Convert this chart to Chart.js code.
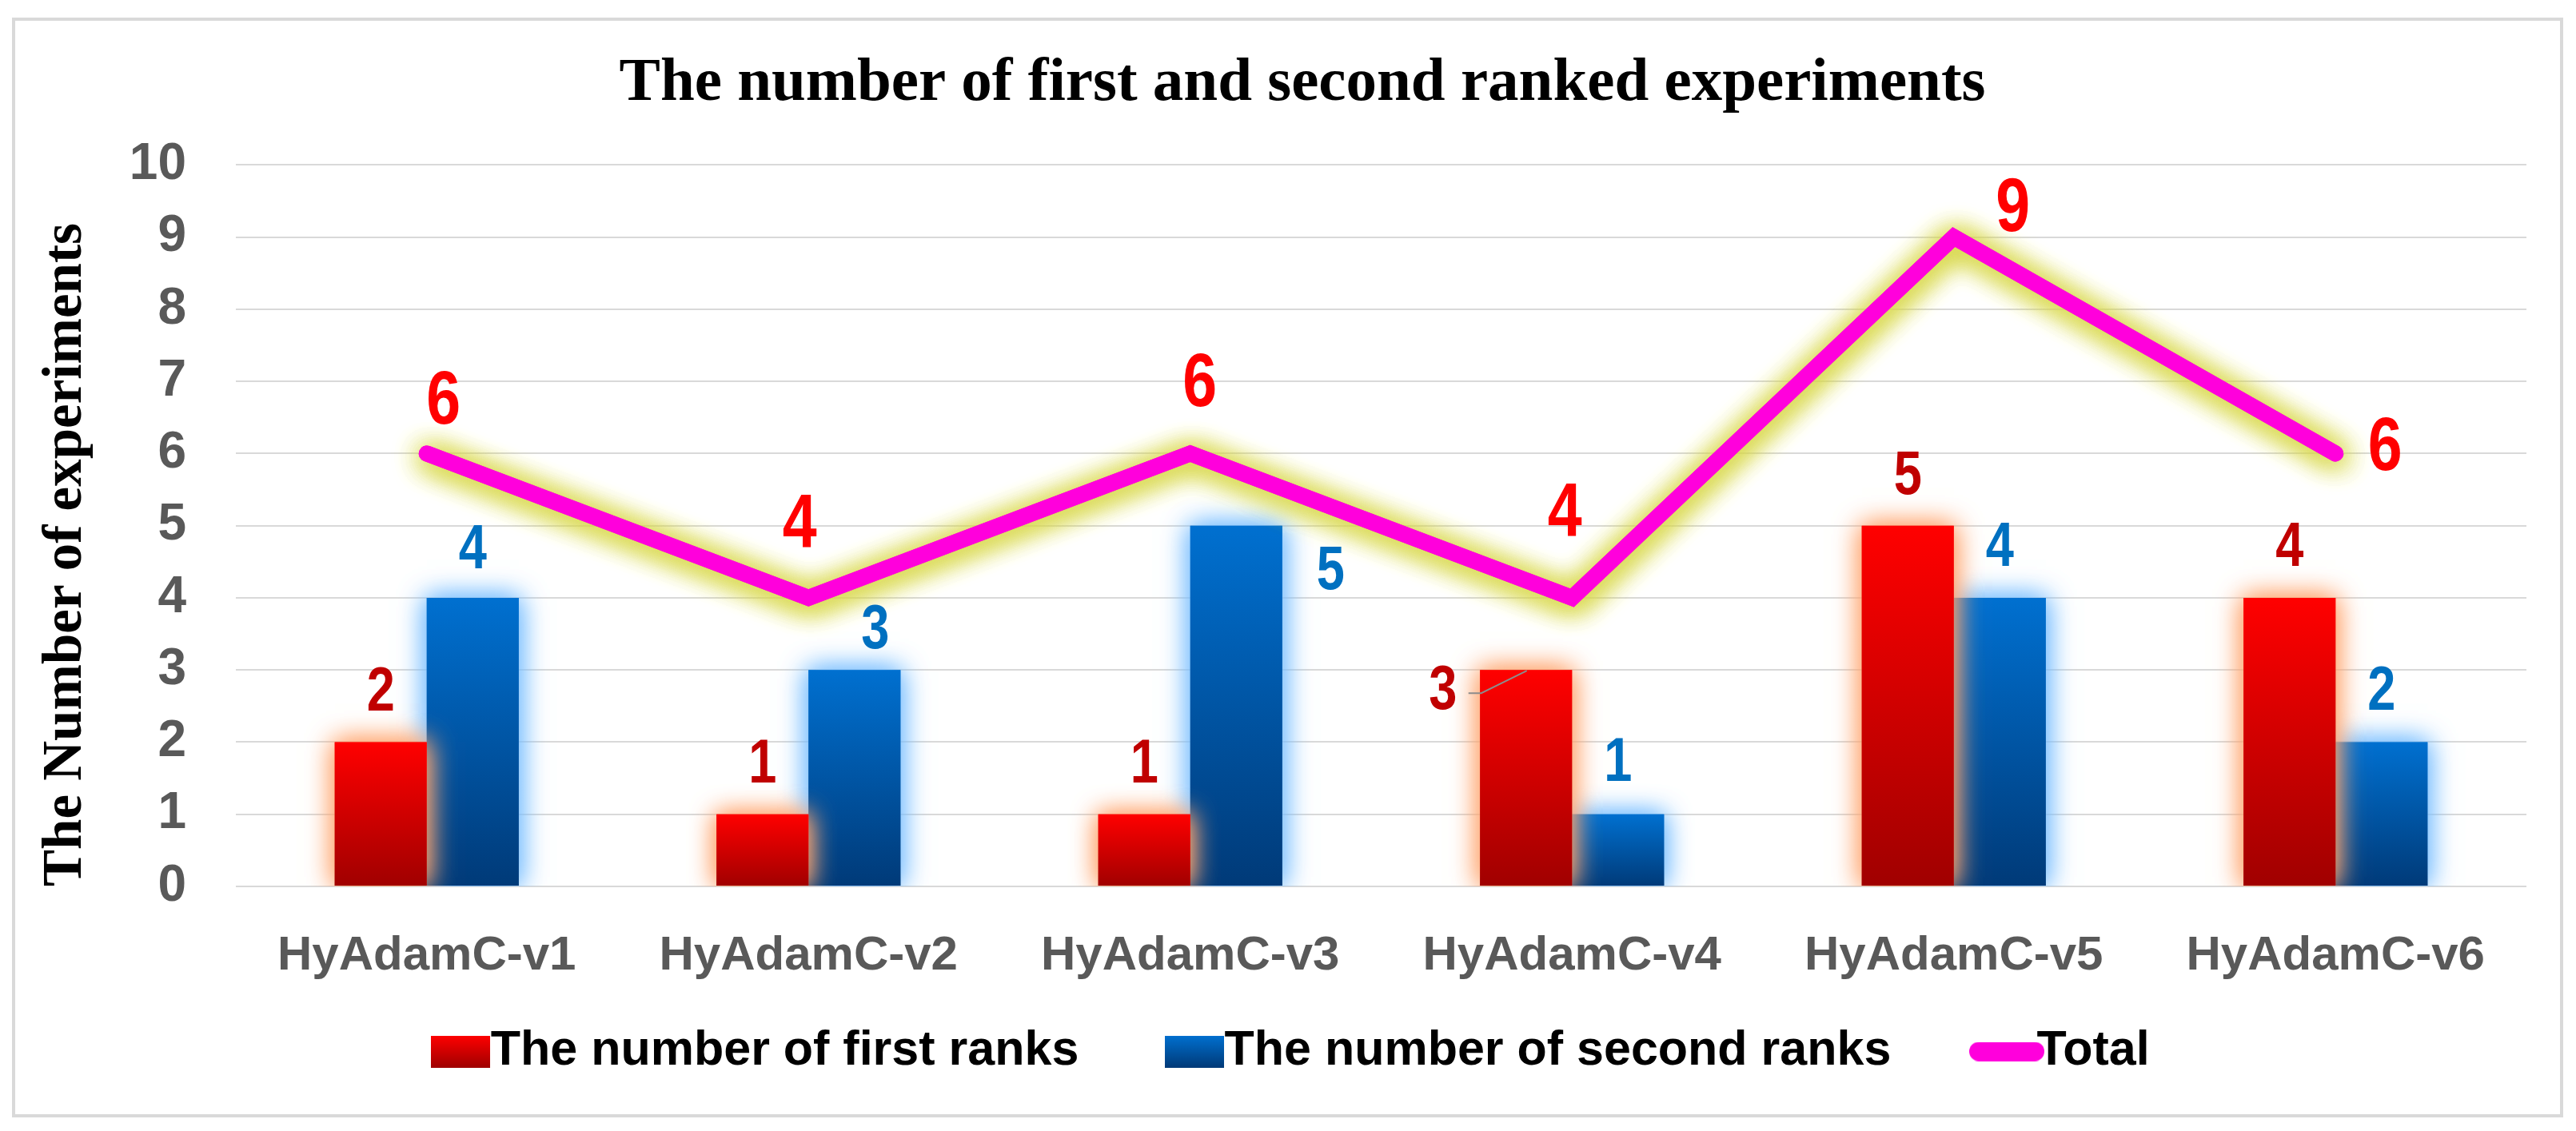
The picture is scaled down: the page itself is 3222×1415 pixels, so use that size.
<!DOCTYPE html>
<html>
<head>
<meta charset="utf-8">
<title>The number of first and second ranked experiments</title>
<script src="https://cdn.jsdelivr.net/npm/chart.js@4.4.1/dist/chart.umd.min.js"></script>
<style>
  html, body { margin: 0; padding: 0; background: #ffffff; }
  #wrap { position: relative; width: 3222px; height: 1415px; }
  #frame {
    position: absolute; left: 15px; top: 22px; width: 3191px; height: 1376px;
    border: 4px solid #d9d9d9; box-sizing: border-box; pointer-events: none;
  }
</style>
</head>
<body>
<div id="wrap">
  <canvas id="rankChart" width="3222" height="1415"></canvas>
  <div id="frame"></div>
</div>
<script>
// 資料
const categories = ['HyAdamC-v1', 'HyAdamC-v2', 'HyAdamC-v3', 'HyAdamC-v4', 'HyAdamC-v5', 'HyAdamC-v6'];
const firstRanks = [2, 1, 1, 3, 5, 4];
const secondRanks = [4, 3, 5, 1, 4, 2];
const totals = [6, 4, 6, 4, 9, 6];
const yTicks = [0, 1, 2, 3, 4, 5, 6, 7, 8, 9, 10];

const SANS = '"Liberation Sans", Arial, sans-serif';
const SERIF = '"Liberation Serif", "Times New Roman", serif';

// 漸層長條 (每根長條自己的頂到底)
const barGradient = (top, bottom) => (context) => {
  const { chart } = context;
  if (!chart.chartArea || context.type !== 'data') return top;
  const y = chart.scales.y;
  const g = chart.ctx.createLinearGradient(0, y.getPixelForValue(context.raw), 0, y.getPixelForValue(0));
  g.addColorStop(0, top);
  g.addColorStop(1, bottom);
  return g;
};

// 圖例用的小圖
const swatch = (w, h, draw) => {
  const c = document.createElement('canvas');
  c.width = w; c.height = h;
  draw(c.getContext('2d'), w, h);
  return c;
};
const legendMarks = [
  swatch(74, 40, (g, w, h) => {
    const gr = g.createLinearGradient(0, 0, 0, h);
    gr.addColorStop(0, '#ff0000'); gr.addColorStop(1, '#a00000');
    g.fillStyle = gr; g.fillRect(0, 0, w, h);
  }),
  swatch(74, 40, (g, w, h) => {
    const gr = g.createLinearGradient(0, 0, 0, h);
    gr.addColorStop(0, '#0070d0'); gr.addColorStop(1, '#003a78');
    g.fillStyle = gr; g.fillRect(0, 0, w, h);
  }),
  swatch(94, 24, (g, w, h) => {
    g.fillStyle = '#ff00dc';
    g.beginPath();
    g.roundRect(0, 0, w, h, 12);
    g.fill();
  })
];
const legendGap = '      ';

// 光暈 (多畫一次讓光暈更濃)
const glowPlugin = {
  id: 'glow',
  beforeDatasetDraw(chart, args) {
    const glow = chart.data.datasets[args.index].glow;
    if (!glow) return;
    const { ctx, chartArea } = chart;
    ctx.save();
    ctx.shadowColor = glow.color;
    ctx.shadowBlur = glow.blur;
    ctx.shadowOffsetX = glow.dx || 0;
    ctx.shadowOffsetY = glow.dy || 0;
    for (let k = 1; k < (glow.passes || 1); k++) {
      ctx.save();
      ctx.beginPath();
      ctx.rect(chartArea.left, chartArea.top, chartArea.width, chartArea.height);
      ctx.clip();
      args.meta.controller.draw();
      ctx.restore();
    }
  },
  afterDatasetDraw(chart, args) {
    if (chart.data.datasets[args.index].glow) chart.ctx.restore();
  }
};

// 數值標籤 (窄體)
const labelStyle = [
  { color: '#c00000', size: 77, nudge: [[0, -61], [0, -61], [0, -61], [-104, 28], [0, -61], [0, -61]] },
  { color: '#0070c0', size: 77, nudge: [[0, -58], [26, -48], [118, 58], [0, -63], [0, -61], [0, -62]] },
  { color: '#ff0000', size: 94, nudge: [[21, -63], [-11, -90], [12, -85], [-9, -104], [74, -34], [62, -5]] }
];
const valueLabels = {
  id: 'valueLabels',
  afterDatasetsDraw(chart) {
    const ctx = chart.ctx;
    chart.data.datasets.forEach((ds, di) => {
      const st = labelStyle[di];
      const meta = chart.getDatasetMeta(di);
      meta.data.forEach((el, i) => {
        const [dx, dy] = st.nudge[i];
        ctx.save();
        if (di === 0 && i === 3) {
          // 引導線
          ctx.strokeStyle = '#8c8c8c';
          ctx.lineWidth = 2;
          ctx.beginPath();
          ctx.moveTo(el.x - 72, el.y + 29);
          ctx.lineTo(el.x - 56, el.y + 29);
          ctx.lineTo(el.x + 1, el.y + 1);
          ctx.stroke();
        }
        ctx.translate(el.x + dx, el.y + dy);
        ctx.scale(0.82, 1);
        ctx.fillStyle = st.color;
        ctx.font = 'bold ' + st.size + 'px ' + SANS;
        ctx.textAlign = 'center';
        ctx.textBaseline = 'middle';
        ctx.fillText(String(ds.data[i]), 0, 0);
        ctx.restore();
      });
    });
  }
};

new Chart(document.getElementById('rankChart'), {
  type: 'bar',
  data: {
    labels: categories,
    datasets: [
      {
        label: 'The number of first ranks',
        data: firstRanks,
        backgroundColor: barGradient('#ff0000', '#a00000'),
        borderWidth: 0,
        glow: { color: 'rgba(255, 165, 110, 1)', blur: 32, passes: 2 }
      },
      {
        label: 'The number of second ranks',
        data: secondRanks,
        backgroundColor: barGradient('#0070d0', '#003a78'),
        borderWidth: 0,
        glow: { color: 'rgba(120, 190, 255, 1)', blur: 32, passes: 2 }
      },
      {
        type: 'line',
        label: 'Total',
        data: totals,
        borderColor: '#ff00dc',
        borderWidth: 20,
        borderJoinStyle: 'miter',
        borderCapStyle: 'round',
        pointRadius: 0,
        tension: 0,
        fill: false,
        order: -1,
        glow: { color: 'rgba(215, 215, 70, 1)', blur: 34, dx: 2, dy: 4, passes: 3 }
      }
    ]
  },
  options: {
    responsive: false,
    devicePixelRatio: 1,
    animation: false,
    layout: { padding: { top: 30, left: 98, right: 62, bottom: 59 } },
    datasets: {
      bar: { categoryPercentage: 0.482, barPercentage: 1.0 }
    },
    scales: {
      x: {
        grid: { display: false },
        border: { display: false },
        ticks: {
          color: '#595959',
          font: { family: SANS, size: 60, weight: 'bold' },
          padding: 43,
          maxRotation: 0,
          autoSkip: false
        },
        afterFit: (s) => { s.height = 140; }
      },
      y: {
        min: yTicks[0],
        max: yTicks[yTicks.length - 1],
        afterBuildTicks: (s) => { s.ticks = yTicks.map(v => ({ value: v })); },
        ticks: {
          color: '#595959',
          font: { family: SANS, size: 64, weight: 'bold' },
          padding: 62
        },
        grid: { color: '#d9d9d9', lineWidth: 2, drawTicks: false },
        border: { display: false },
        title: {
          display: true,
          text: 'The Number of experiments',
          align: 'start',
          color: '#000000',
          font: { family: SERIF, size: 69, weight: 'bold' },
          padding: { top: -56, bottom: 0 }
        },
        afterFit: (s) => { s.width = 197; }
      }
    },
    plugins: {
      title: {
        display: true,
        text: 'The number of first and second ranked experiments',
        color: '#000000',
        font: { family: SERIF, size: 77, weight: 'bold' },
        padding: { top: 29, bottom: 55 }
      },
      legend: {
        position: 'bottom',
        labels: {
          usePointStyle: true,
          pointStyleWidth: 14,
          boxHeight: 40,
          padding: 36,
          color: '#000000',
          font: { family: SANS, size: 61, weight: 'bold' },
          generateLabels: (chart) => chart.data.datasets.map((ds, i, all) => ({
            text: i < all.length - 1 ? ds.label + legendGap : ds.label,
            pointStyle: legendMarks[i],
            fillStyle: 'transparent',
            strokeStyle: 'transparent',
            lineWidth: 0,
            fontColor: '#000000',
            hidden: false,
            datasetIndex: i
          }))
        }
      },
      tooltip: { enabled: false }
    }
  },
  plugins: [glowPlugin, valueLabels]
});
</script>
</body>
</html>
